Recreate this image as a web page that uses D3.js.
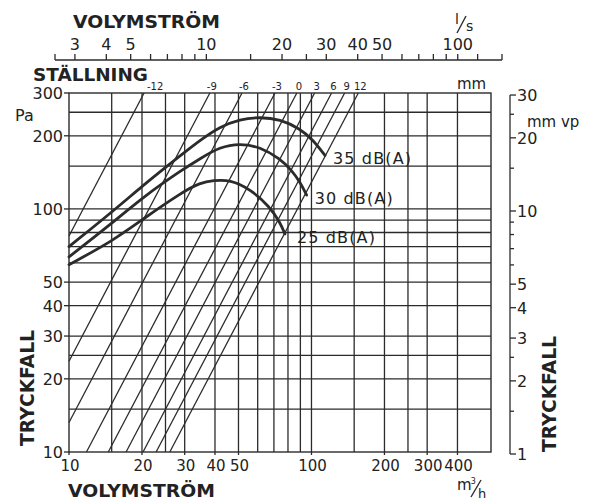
<!DOCTYPE html>
<html><head><meta charset="utf-8">
<script src="https://cdn.jsdelivr.net/npm/d3@7"></script>
<style>
body{margin:0;background:#fff}
svg{display:block}
text{font-family:"DejaVu Sans",sans-serif;fill:#222}
</style>
</head><body>
<svg id="c" width="589" height="501"></svg>
<script>
// ---- data ----
const gridQ = [15,20,25,30,40,50,60,70,80,90,100,150,200,250,300,400];   // m3/h
const gridP = [15,20,25,30,40,50,60,70,80,90,100,150,200,250];           // Pa
const bottomLabels = [10,20,30,40,50,100,200,300,400];
const leftLabels = [10,20,30,40,50,100,200,300];
const rightLabels = [1,2,3,4,5,10,20,30];          // mm vp
const rightMinor = [1.5,2.5,6,7,8,9,15,25];
const topLabels = [3,4,5,10,20,30,40,50,100];      // l/s
const topMinor = [2.5,6,7,8,9,15,25,60,70,80,90,120,150];
const positions = ["-12","-9","-6","-3","0","3","6","9","12"]; // STÄLLNING mm
const flowAt300 = [20.4,38.1,51.7,70.7,87,103,121,137,156];    // m3/h where each line meets 300 Pa
const lineExp = 1.9;
const q35 = [10,15.2,20.2,26,34.7,41.9,50.7,61.3,74.2,89.7,101.7,113.7];
const p35 = [70,98,125,153,192,218,234,239,234,214,192,166];
const q30 = [10,15.2,20.2,29.6,34.7,41.9,50.7,61.3,74.2,82.9,89.7,95.5];
const p30 = [63.5,88,112,146,161,180,186,180,161,144,129,114];
const q25 = [10,15.2,20.2,29.6,34.7,39.4,46.1,55.8,67.4,74.2,77.7];
const p25 = [59,74,91,118,128,131,132,121,102,88,79];
const curveNames = ["35 dB(A)","30 dB(A)","25 dB(A)"];

// ---- scales ----
const svg = d3.select("#c");
const x = d3.scaleLog().domain([10,550]).range([69,491]);
const y = d3.scaleLog().domain([10,300]).range([452,93]);
const xTop = d3.scaleLog().domain([2.5,150]).range([55,502]);
const yMM = v => y(v*9.81);
const ink = "#2b2b2b";

// grid
const g = svg.append("g").attr("stroke",ink).attr("stroke-width",1.3);
gridQ.forEach(q=>g.append("line").attr("x1",x(q)).attr("x2",x(q)).attr("y1",y(10)).attr("y2",y(300)));
gridP.forEach(p=>g.append("line").attr("x1",x(10)).attr("x2",x(550)).attr("y1",y(p)).attr("y2",y(p)));
g.append("rect").attr("x",x(10)).attr("y",y(300)).attr("width",x(550)-x(10)).attr("height",y(10)-y(300)).attr("fill","none").attr("stroke-width",1.4);

// left axis
leftLabels.forEach(p=>{
  svg.append("line").attr("x1",64).attr("x2",x(10)).attr("y1",y(p)).attr("y2",y(p)).attr("stroke",ink).attr("stroke-width",1.3);
  svg.append("text").attr("x",63).attr("y",y(p)+6).attr("text-anchor","end").attr("font-size",16).text(p);
});
svg.append("text").attr("x",15).attr("y",121).attr("font-size",16).text("Pa");

// bottom axis
bottomLabels.forEach(q=>{
  svg.append("line").attr("x1",x(q)).attr("x2",x(q)).attr("y1",y(10)).attr("y2",y(10)+3).attr("stroke",ink).attr("stroke-width",1.3);
  svg.append("text").attr("x",x(q)+1).attr("y",471).attr("text-anchor","middle").attr("font-size",15).text(q);
});
svg.append("text").attr("x",68).attr("y",497).attr("font-size",18).attr("font-weight","bold").attr("textLength",147).attr("lengthAdjust","spacingAndGlyphs").text("VOLYMSTRÖM");
// m3/h
const mt = svg.append("text").attr("x",457).attr("y",490).attr("font-size",15);
mt.append("tspan").text("m");
mt.append("tspan").attr("font-size",8).attr("dy",-6).attr("dx",-1).text("3");
svg.append("line").attr("x1",471).attr("y1",497).attr("x2",481).attr("y2",480).attr("stroke",ink).attr("stroke-width",1.4);
svg.append("text").attr("x",478).attr("y",498).attr("font-size",13).text("h");

// top axis (l/s)
const ta = svg.append("g").attr("stroke",ink).attr("stroke-width",1.3);
ta.append("line").attr("x1",xTop(2.5)).attr("x2",xTop(150)).attr("y1",60).attr("y2",60);
topLabels.concat(topMinor).forEach(v=>ta.append("line").attr("x1",xTop(v)).attr("x2",xTop(v)).attr("y1",60).attr("y2",54));
topLabels.forEach(v=>svg.append("text").attr("x",xTop(v)).attr("y",50).attr("text-anchor","middle").attr("font-size",16).text(v));
svg.append("text").attr("x",73).attr("y",28).attr("font-size",18).attr("font-weight","bold").attr("textLength",147).attr("lengthAdjust","spacingAndGlyphs").text("VOLYMSTRÖM");
svg.append("text").attr("x",455).attr("y",24).attr("font-size",14).text("l");
svg.append("line").attr("x1",457).attr("y1",33).attr("x2",466).attr("y2",16).attr("stroke",ink).attr("stroke-width",1.4);
svg.append("text").attr("x",466).attr("y",31).attr("font-size",14).text("s");

// right axis (mm vp)
const ra = svg.append("g").attr("stroke",ink).attr("stroke-width",1.3);
ra.append("line").attr("x1",510).attr("x2",510).attr("y1",yMM(30)).attr("y2",yMM(1));
rightLabels.forEach(v=>{
  ra.append("line").attr("x1",510).attr("x2",516).attr("y1",yMM(v)).attr("y2",yMM(v));
  svg.append("text").attr("x",517).attr("y",yMM(v)+6).attr("font-size",16).text(v);
});
rightMinor.forEach(v=>ra.append("line").attr("x1",510).attr("x2",514).attr("y1",yMM(v)).attr("y2",yMM(v)));
svg.append("text").attr("x",527).attr("y",127).attr("font-size",15).text("mm vp");

// TRYCKFALL labels
svg.append("text").attr("transform","translate(34,388) rotate(-90)").attr("text-anchor","middle").attr("font-size",19).attr("font-weight","bold").attr("textLength",116).attr("lengthAdjust","spacingAndGlyphs").text("TRYCKFALL");
svg.append("text").attr("transform","translate(556,394) rotate(-90)").attr("text-anchor","middle").attr("font-size",19).attr("font-weight","bold").attr("textLength",116).attr("lengthAdjust","spacingAndGlyphs").text("TRYCKFALL");

// STÄLLNING
svg.append("text").attr("x",33).attr("y",81).attr("font-size",18).attr("font-weight","bold").attr("textLength",115).attr("lengthAdjust","spacingAndGlyphs").text("STÄLLNING");
svg.append("text").attr("x",457).attr("y",89).attr("font-size",15).text("mm");

// damper position lines  P = 300*(Q/Q300)^n
const dl = svg.append("g").attr("stroke",ink).attr("stroke-width",1.3);
flowAt300.forEach((q3,i)=>{
  let qStart = q3*Math.pow(10/300,1/lineExp);
  if(qStart<10) qStart=10;
  const pStart = 300*Math.pow(qStart/q3,lineExp);
  dl.append("line").attr("x1",x(qStart)).attr("y1",y(pStart)).attr("x2",x(q3)).attr("y2",y(300));
  const off = i===0 ? 11 : 2;
  svg.append("text").attr("x",x(q3)+off).attr("y",90).attr("text-anchor","middle").attr("font-size",10).text(positions[i]);
});

// dB curves
const line = d3.line().x(d=>x(d[0])).y(d=>y(d[1])).curve(d3.curveBasis);
const sets = [[q35,p35],[q30,p30],[q25,p25]];
sets.forEach((s,i)=>{
  const pts = s[0].map((q,j)=>[q,s[1][j]]);
  svg.append("path").attr("d",line(pts)).attr("fill","none").attr("stroke",ink).attr("stroke-width",2.8).attr("stroke-linecap","round");
  const last = pts[pts.length-1];
  svg.append("text").attr("x",x(last[0])+(i===2?12:8)).attr("y",y(last[1])+9).attr("font-size",16).attr("textLength",78).attr("lengthAdjust","spacing").text(curveNames[i]);
});
</script>
</body></html>
